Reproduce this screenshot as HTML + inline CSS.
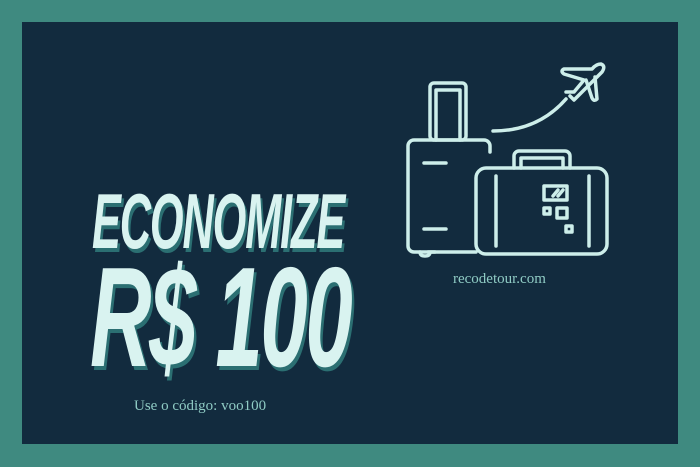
<!DOCTYPE html>
<html><head><meta charset="utf-8"><style>
body{margin:0;width:700px;height:467px;overflow:hidden;background:#3f8a80}
#card{position:absolute;left:22px;top:22px;width:656px;height:422px;background:#122b3e}
.big{position:absolute;font-family:"Liberation Sans Narrow","Liberation Sans",sans-serif;font-weight:bold;font-style:italic;color:#d9f3f0;text-shadow:4px 4px 0 #2b6f72;white-space:nowrap;transform-origin:left top}
.small{position:absolute;font-family:"Liberation Serif",serif;color:#8fcbc4;white-space:nowrap}
</style></head><body>
<div id="card"></div>
<div class="big" style="left:92px;top:176px;font-size:78px;letter-spacing:-2px;transform:scaleX(0.555)">ECONOMIZE</div>
<div class="big" style="left:90px;top:236px;font-size:142px;letter-spacing:-4px;transform:scaleX(0.60)">R$ 100</div>
<div class="small" style="left:134px;top:398px;font-size:15px">Use o código: voo100</div>
<div class="small" style="left:453px;top:271px;font-size:15px">recodetour.com</div>
<svg width="700" height="467" style="position:absolute;left:0;top:0" fill="none" stroke="#cdeeea" stroke-width="3.5" stroke-linecap="round" stroke-linejoin="round">
<rect x="430" y="83" width="36" height="57" rx="4"/>
<path d="M436 90h24M436 90v50M460 90v50"/>
<path d="M490 152v-6a6 6 0 0 0-6-6h-70a6 6 0 0 0-6 6v100a6 6 0 0 0 6 6h62"/>
<path d="M424 163h22M424 229h22"/>
<path d="M420 252q0 4 5 4q5 0 5-4M428 252h7"/>
<rect x="476" y="168" width="131" height="86" rx="10"/>
<path d="M514 168v-12a5 5 0 0 1 5-5h46a5 5 0 0 1 5 5v12M521 168v-10h42v10"/>
<path d="M496 176v70M589 176v70"/>
<rect x="544" y="186" width="23" height="14"/>
<path d="M553 196l5-6M558 196l5-6"/>
<rect x="544" y="208" width="6" height="6"/><rect x="557" y="208" width="10" height="10"/><rect x="566" y="226" width="6" height="6"/>
<path d="M493 131q45 0 73-32" />
<path d="M570 96l4 4 28-28q4-6-1-8-5 0-9 5l-28 0q-4 2 0 5l20 6-10 12-8 0"/>
<path d="M586 80l6 18q2 4 5 1l-2-22"/>
</svg>
</body></html>
